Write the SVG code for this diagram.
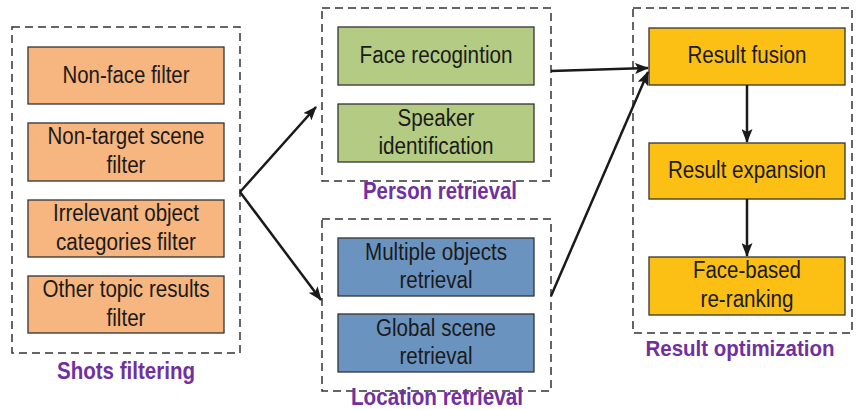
<svg xmlns="http://www.w3.org/2000/svg" width="856" height="410" viewBox="0 0 856 410">
<style>
.grp{fill:none;stroke:#333;stroke-width:1.5;stroke-dasharray:8 5}
.box{stroke:#333;stroke-width:1.3}
.or{fill:#F7B57F}
.gr{fill:#B4CB83}
.bl{fill:#6B93C0}
.ye{fill:#FBC013}
.t{font-family:"Liberation Sans",Arial,sans-serif;font-size:23px;fill:#1a1a1a;text-anchor:middle}
.lbl{font-family:"Liberation Sans",Arial,sans-serif;font-size:24px;font-weight:bold;fill:#7030A0;text-anchor:middle}
.conn{stroke:#1a1a1a;stroke-width:2.5;fill:none;marker-end:url(#ah)}
</style>
<defs>
<marker id="ah" viewBox="0 0 14 11" refX="13" refY="5.5" markerWidth="14" markerHeight="11" markerUnits="userSpaceOnUse" orient="auto">
<path d="M0,0 L14,5.5 L0,11 L3,5.5 Z" fill="#1a1a1a"/>
</marker>
</defs>
<rect width="856" height="410" fill="#fff"/>

<g id="shots-filtering">
<rect class="grp" x="12" y="27" width="228" height="326"/>
<text class="lbl" x="126" y="379" textLength="138" lengthAdjust="spacingAndGlyphs">Shots filtering</text>
</g>
<g id="non-face-filter">
<rect class="box or" x="28" y="47" width="196" height="57"/>
<text class="t" x="126" y="83" textLength="127" lengthAdjust="spacingAndGlyphs">Non-face filter</text>
</g>
<g id="non-target-scene-filter">
<rect class="box or" x="28" y="123" width="196" height="58"/>
<text class="t" x="126" y="144" textLength="157" lengthAdjust="spacingAndGlyphs">Non-target scene</text>
<text class="t" x="126" y="173" textLength="39" lengthAdjust="spacingAndGlyphs">filter</text>
</g>
<g id="irrelevant-object-filter">
<rect class="box or" x="28" y="200" width="196" height="57"/>
<text class="t" x="126" y="221" textLength="146" lengthAdjust="spacingAndGlyphs">Irrelevant object</text>
<text class="t" x="126" y="250" textLength="140" lengthAdjust="spacingAndGlyphs">categories filter</text>
</g>
<g id="other-topic-filter">
<rect class="box or" x="28" y="276" width="196" height="57"/>
<text class="t" x="126" y="297" textLength="167" lengthAdjust="spacingAndGlyphs">Other topic results</text>
<text class="t" x="126" y="326" textLength="39" lengthAdjust="spacingAndGlyphs">filter</text>
</g>

<g id="person-retrieval">
<rect class="grp" x="322" y="8" width="229" height="173"/>
<text class="lbl" x="440" y="199" textLength="154" lengthAdjust="spacingAndGlyphs">Person retrieval</text>
</g>
<g id="face-recognition">
<rect class="box gr" x="338" y="27" width="196" height="58"/>
<text class="t" x="436" y="63" textLength="153" lengthAdjust="spacingAndGlyphs">Face recogintion</text>
</g>
<g id="speaker-identification">
<rect class="box gr" x="338" y="104" width="196" height="58"/>
<text class="t" x="436" y="126" textLength="77" lengthAdjust="spacingAndGlyphs">Speaker</text>
<text class="t" x="436" y="154" textLength="115" lengthAdjust="spacingAndGlyphs">identification</text>
</g>

<g id="location-retrieval">
<rect class="grp" x="322" y="219" width="229" height="172"/>
<text class="lbl" x="437" y="405" style="font-size:23px" textLength="172" lengthAdjust="spacingAndGlyphs">Location retrieval</text>
</g>
<g id="multiple-objects">
<rect class="box bl" x="338" y="238" width="196" height="58"/>
<text class="t" x="436" y="260" textLength="142" lengthAdjust="spacingAndGlyphs">Multiple objects</text>
<text class="t" x="436" y="288" textLength="73" lengthAdjust="spacingAndGlyphs">retrieval</text>
</g>
<g id="global-scene">
<rect class="box bl" x="338" y="314" width="196" height="58"/>
<text class="t" x="436" y="336" textLength="120" lengthAdjust="spacingAndGlyphs">Global scene</text>
<text class="t" x="436" y="364" textLength="73" lengthAdjust="spacingAndGlyphs">retrieval</text>
</g>

<g id="result-optimization">
<rect class="grp" x="633" y="8" width="219" height="325"/>
<text class="lbl" x="740" y="356" style="font-size:22px" textLength="189" lengthAdjust="spacingAndGlyphs">Result optimization</text>
</g>
<g id="result-fusion">
<rect class="box ye" x="649" y="28" width="196" height="57"/>
<text class="t" x="747" y="63" textLength="119" lengthAdjust="spacingAndGlyphs">Result fusion</text>
</g>
<g id="result-expansion">
<rect class="box ye" x="649" y="143" width="196" height="56"/>
<text class="t" x="747" y="178" textLength="158" lengthAdjust="spacingAndGlyphs">Result expansion</text>
</g>
<g id="face-based-reranking">
<rect class="box ye" x="649" y="257" width="196" height="58"/>
<text class="t" x="747" y="278" textLength="108" lengthAdjust="spacingAndGlyphs">Face-based</text>
<text class="t" x="747" y="307" textLength="93" lengthAdjust="spacingAndGlyphs">re-ranking</text>
</g>

<g id="connectors">
<line class="conn" x1="240" y1="192" x2="316" y2="107"/>
<line class="conn" x1="240" y1="192" x2="321" y2="300"/>
<line class="conn" x1="551" y1="71" x2="648" y2="68"/>
<line class="conn" x1="551" y1="296" x2="648" y2="72"/>
<line class="conn" x1="747" y1="85" x2="747" y2="142"/>
<line class="conn" x1="747" y1="199" x2="747" y2="256"/>
</g>
</svg>
